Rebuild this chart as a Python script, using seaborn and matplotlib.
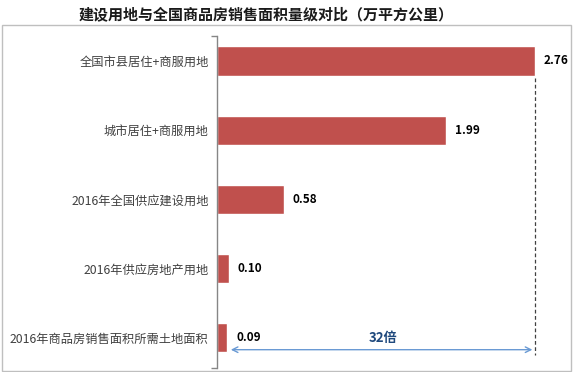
import matplotlib
matplotlib.use("Agg")
import matplotlib.pyplot as plt
import matplotlib.patches as mpatches
import seaborn as sns

# data
categories = ["全国市县居住+商服用地", "城市居住+商服用地", "2016年全国供应建设用地",
              "2016年供应房地产用地", "2016年商品房销售面积所需土地面积"]
values = [2.76, 1.99, 0.58, 0.10, 0.09]
ratio_text = "32倍"
title = "建设用地与全国商品房销售面积量级对比（万平方公里）"

sns.set_style("white")
plt.rcParams['font.family'] = ['Noto Sans CJK SC', 'DejaVu Sans']

fig = plt.figure(figsize=(5.74, 3.72), dpi=100)
ax = fig.add_axes([217 / 574, 4.3 / 372, (560 - 217) / 574, 332.2 / 372])

sns.barplot(x=values, y=categories, color="#C0504D", width=0.42,
            saturation=1, ax=ax, orient="h")

ax.set_xlim(0, 2.98)
ax.set_ylim(4.43, -0.368)
ax.set_xlabel("")
ax.set_ylabel("")
ax.set_xticks([])
for side in ["top", "right", "bottom"]:
    ax.spines[side].set_visible(False)
ax.spines["left"].set_color("#868686")
ax.spines["left"].set_linewidth(1)
ax.tick_params(axis="y", length=0, pad=6, labelsize=8.8, labelcolor="#404040")
# small end ticks on the category axis
ax.set_yticks([4.43, -0.368], minor=True)
ax.tick_params(axis="y", which="minor", left=True, length=4, width=1,
               color="#868686", direction="out")

# value labels
for i, v in enumerate(values):
    ax.text(v + 0.08, i, f"{v:.2f}", va="center", ha="left",
            fontsize=8.5, fontweight="bold", color="black")

# dashed reference line and double arrow
ax.plot([values[0], values[0]], [0.24, 4.25], ls=(0, (3, 2)), color="#404040", lw=0.9)
ax.annotate("", xy=(values[0] - 0.02, 4.17), xytext=(values[-1] + 0.03, 4.17),
            arrowprops=dict(arrowstyle="<->", color="#6A9AD4", lw=1,
                            shrinkA=0, shrinkB=0))
ax.text((values[0] + values[-1]) / 2 + 0.02, 4.0, ratio_text, ha="center", va="center",
        fontsize=9.5, fontweight="bold", color="#1F497D")

# title and outer frame
fig.text(266 / 574, 1 - 14 / 372, title, ha="center", va="center",
         fontsize=10.8, fontweight="bold", color="#1A1A1A")
fig.patches.append(mpatches.Rectangle((2 / 574, 1 / 372), 569 / 574, 346 / 372,
                                      transform=fig.transFigure, fill=False,
                                      edgecolor="#BFBFBF", lw=1))

fig.savefig("out.png", dpi=100)
